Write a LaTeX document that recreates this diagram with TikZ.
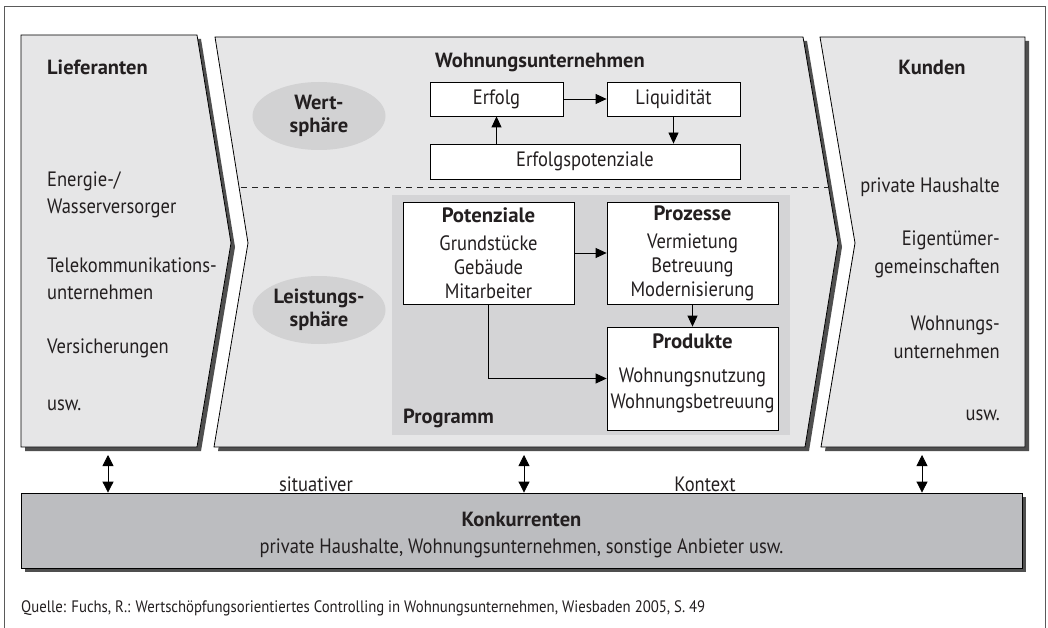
\documentclass[tikz,border=0pt]{standalone}
\usepackage{fontspec}
\setmainfont{PT Sans}[FakeStretch=0.89, BoldFeatures={FakeStretch=1.0}]
\usetikzlibrary{arrows.meta,shapes.geometric}
\definecolor{panelfill}{HTML}{E6E6E7}
\definecolor{shadowgray}{HTML}{4F4F4F}
\definecolor{ellfill}{HTML}{D2D2D3}
\definecolor{progfill}{HTML}{D4D4D6}
\definecolor{konkfill}{HTML}{BCBDC0}
\definecolor{framegray}{HTML}{5A5A5A}
\definecolor{textcol}{HTML}{231F20}
\begin{document}
\begin{tikzpicture}[x=1pt,y=-1pt,
  every node/.style={font=\fontsize{20.8}{27}\selectfont, inner sep=0pt, text=textcol},
  panel/.style={fill=panelfill, draw=black, line width=0.8pt},
  shadowfill/.style={fill=shadowgray},
  sphere/.style={ellipse, fill=ellfill, minimum width=133pt, minimum height=68pt, align=center, font=\fontsize{20.5}{23}\selectfont\bfseries},
  whitebox/.style={draw=black, fill=white, line width=0.8pt},
  boxtext/.style={align=center, font=\fontsize{20.8}{24}\selectfont},
  titletext/.style={font=\fontsize{20.5}{24}\selectfont\bfseries},
  arr/.style={-{Triangle[length=11pt,width=10pt]}, line width=0.8pt},
  dblarr/.style={{Triangle[length=11pt,width=11pt]}-{Triangle[length=11pt,width=11pt]}, line width=0.8pt},
]
\useasboundingbox (0,0) rectangle (1048,628);
\fill[white] (0,0) rectangle (1048,628);
% frame
\draw[framegray, line width=1pt] (4,628) -- (4,7) -- (1045,7) -- (1045,628);

% shadows
\fill[shadowfill, shift={(4,4)}] (21,35) -- (197,35) -- (231,243) -- (197,447) -- (21,447) -- cycle;
\fill[shadowfill, shift={(4,4)}] (215,37) -- (803,37) -- (838,243) -- (805,447) -- (214,447) -- (248,243) -- cycle;
\fill[shadowfill, shift={(4,4)}] (820,37) -- (1025,37) -- (1025,447) -- (821,447) -- (855,243) -- cycle;
% panels
\draw[panel] (21,35) -- (197,35) -- (231,243) -- (197,447) -- (21,447) -- cycle;
\draw[panel] (215,37) -- (803,37) -- (838,243) -- (805,447) -- (214,447) -- (248,243) -- cycle;
\draw[panel] (820,37) -- (1025,37) -- (1025,447) -- (821,447) -- (855,243) -- cycle;

% Lieferanten
\node[titletext, anchor=west] (lieftitle) at (47,67) {Lieferanten};
\node[anchor=west, align=left] (l1) at (47,195) {Energie-/\\Wasserversorger};
\node[anchor=west, align=left] (l2) at (47,278.5) {Telekommunikations-\\unternehmen};
\node[anchor=west] (l3) at (47,348) {Versicherungen};
\node[anchor=west] (l4) at (47,405) {usw.};

% Kunden
\node[titletext] (kundtitle) at (932,67) {Kunden};
\node[anchor=east] (k1) at (1000,187) {private Haushalte};
\node[anchor=east, align=right, font=\fontsize{20.8}{28}\selectfont] (k2) at (1000,254) {Eigentümer-\\gemeinschaften};
\node[anchor=east, align=right, font=\fontsize{20.8}{28}\selectfont] (k3) at (1000,337.5) {Wohnungs-\\unternehmen};
\node[anchor=east] (k4) at (1000,415) {usw.};

% dashed separator
\draw[black!85, line width=0.8pt, dash pattern=on 6pt off 5pt] (241,187) -- (829,187);

% spheres
\node[sphere] (wert) at (319,116) {Wert-\\sphäre};
\node[sphere] (leist) at (319,310) {Leistungs-\\sphäre};

% Wertsphaere
\node[titletext, anchor=west] (wutitle) at (435,63) {Wohnungsunternehmen};
\node[whitebox, minimum width=133pt, minimum height=34pt] (erfolg) at (496.5,99) {Erfolg};
\node[whitebox, minimum width=133pt, minimum height=34pt] (liq) at (673.5,99) {Liquidität};
\node[whitebox, minimum width=310pt, minimum height=35pt] (ep) at (585,161.5) {Erfolgspotenziale};
\draw[arr] (erfolg) -- (liq);
\draw[arr] (liq) -- (liq |- ep.north);
\draw[arr] (erfolg |- ep.north) -- (erfolg);

% Programm
\fill[progfill] (392,195) rectangle (790,435);
\node[titletext, anchor=west] (progtitle) at (403,418) {Programm};
\node[whitebox, minimum width=171pt, minimum height=102pt] (pot) at (488.5,253) {};
\node[boxtext] (pottext) at (488.5,253) {\textbf{Potenziale}\\[4pt]Grundstücke\\Gebäude\\Mitarbeiter};
\node[whitebox, minimum width=171pt, minimum height=102pt] (proz) at (692.5,253) {};
\node[boxtext] (proztext) at (692.5,253) {\textbf{Prozesse}\\[4pt]Vermietung\\Betreuung\\Modernisierung};
\node[whitebox, minimum width=171pt, minimum height=103pt] (prod) at (692.5,378.5) {};
\node[boxtext] (prodtext) at (692.5,373) {\textbf{Produkte}\\[10pt]Wohnungsnutzung\\[2pt]Wohnungsbetreuung};
\draw[arr] (pot) -- (proz);
\draw[arr] (proz) -- (prod);
\draw[arr] (pot) |- (prod);

% Konkurrenten
\fill[shadowfill] (25,497) rectangle (1026,572);
\node[draw=black, fill=konkfill, line width=0.8pt, minimum width=1001pt, minimum height=75pt] (konk) at (521.5,530.5) {};
\node[titletext] (konktitle) at (521.5,519) {Konkurrenten};
\node (konkline) at (521.5,548) {private Haushalte, Wohnungsunternehmen, sonstige Anbieter usw.};

\coordinate (c1) at (108,455);
\coordinate (c2) at (524,455);
\coordinate (c3) at (922,455);
\draw[dblarr] (c1) -- (c1 |- konk.north);
\draw[dblarr] (c2) -- (c2 |- konk.north);
\draw[dblarr] (c3) -- (c3 |- konk.north);
\node (sit) at (316,484) {situativer};
\node (kontext) at (705,484) {Kontext};

\node[anchor=west, font=\fontsize{16.6}{18}\selectfont] (quelle) at (21,608) {Quelle: Fuchs, R.: Wertschöpfungsorientiertes Controlling in Wohnungsunternehmen, Wiesbaden 2005, S. 49};
\end{tikzpicture}
\end{document}
